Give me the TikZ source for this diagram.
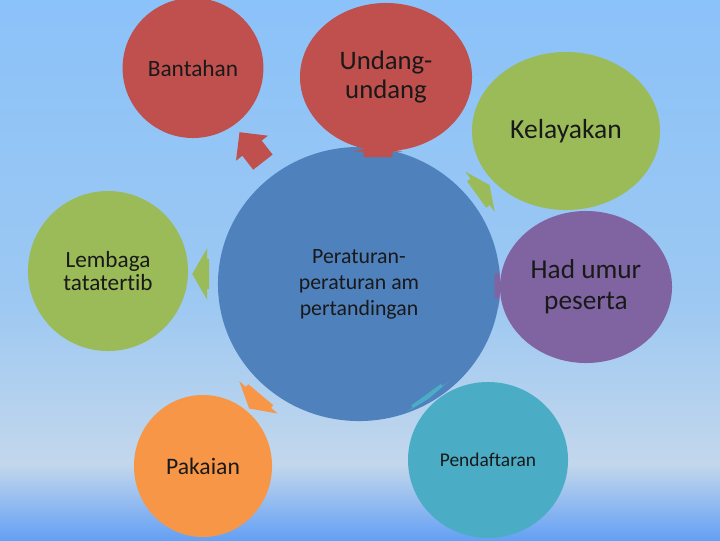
\documentclass[tikz,border=0pt]{standalone}
\usepackage{fontspec}
\setmainfont{Carlito}[Ligatures=NoCommon]
\usetikzlibrary{shapes.geometric,shapes.arrows}

\definecolor{langitA}{HTML}{8BC2F9}
\definecolor{langitB}{HTML}{9CC8F2}
\definecolor{langitC}{HTML}{C3D7EC}
\definecolor{langitD}{HTML}{64A0F4}
\definecolor{biru}{HTML}{4F81BD}
\definecolor{merah}{HTML}{C0504D}
\definecolor{hijau}{HTML}{9BBB59}
\definecolor{ungu}{HTML}{8064A2}
\definecolor{oren}{HTML}{F79646}
\definecolor{firus}{HTML}{4BACC6}

\tikzset{
    bulat/.style={ellipse, inner sep=0pt, align=center, text=black!90},
    panah/.style={single arrow, inner xsep=0pt, draw=none}
}

\begin{document}
\begin{tikzpicture}[x=0.025cm, y=-0.025cm]
    % Latar belakang
    \path[use as bounding box, clip] (0,0) rectangle (720,540);
    \shade[top color=langitA, bottom color=langitB] (0,0) rectangle (720,300);
    \shade[top color=langitB, bottom color=langitC] (0,299) rectangle (720,465);
    \shade[top color=langitC, bottom color=langitD] (0,464) rectangle (720,540);

    % Bulatan tengah
    \node[bulat, fill=biru, minimum width=7.05cm, minimum height=6.85cm,
          font=\fontsize{15.5}{18.4}\selectfont] (tengah) at (359,284)
          {Peraturan-\\peraturan am\\pertandingan};

    % Bulatan luar
    \node[bulat, fill=merah, minimum width=3.52cm, minimum height=3.5cm,
          font=\fontsize{16.6}{20}\selectfont] (bantahan) at (193,68) {Bantahan};
    \node[bulat, fill=merah, minimum width=4.3cm, minimum height=3.7cm,
          font=\fontsize{19}{21}\selectfont] (undang) at (386,77) {Undang-\\undang};
    \node[bulat, fill=hijau, minimum width=4.7cm, minimum height=3.95cm,
          font=\fontsize{19.6}{22}\selectfont] (kelayakan) at (566,131) {Kelayakan};
    \node[bulat, fill=hijau, minimum width=4.0cm, minimum height=4.0cm,
          font=\fontsize{16.5}{16.3}\selectfont] (lembaga) at (108,271) {Lembaga\\tatatertib};
    \node[bulat, fill=ungu, minimum width=4.3cm, minimum height=3.8cm,
          font=\fontsize{19.4}{22}\selectfont] (umur) at (586,287) {Had umur\\peserta};
    \node[bulat, fill=oren, minimum width=3.45cm, minimum height=3.55cm,
          font=\fontsize{16.8}{20}\selectfont] (pakaian) at (203,466) {Pakaian};
    \node[bulat, fill=firus, minimum width=4.0cm, minimum height=3.9cm,
          font=\fontsize{13.8}{16}\selectfont] (daftar) at (488,460) {Pendaftaran};

    % Anak panah
    \node[panah, fill=merah, rotate=128, minimum height=0.95cm, inner ysep=0.3cm,
          single arrow head extend=0.2cm] (pbantahan) at (255,152) {};
    \node[panah, fill=merah, rotate=90, minimum height=0.3cm, inner ysep=0.35cm,
          single arrow head extend=0.25cm, single arrow tip angle=150] (pundang) at (378,153) {};
    \node[panah, fill=hijau, rotate=36, minimum height=0.4cm, inner ysep=0.4cm,
          single arrow head extend=0.22cm, single arrow tip angle=130] (pkelayakan) at (480,192) {};
    \node[panah, fill=hijau, rotate=180, minimum height=0.42cm, inner ysep=0.37cm,
          single arrow head extend=0.27cm, single arrow tip angle=120] (plembaga) at (205,274) {};
    \node[panah, fill=ungu, rotate=0, minimum height=0.15cm, inner ysep=0.3cm,
          single arrow head extend=0.25cm, single arrow tip angle=170] (pumur) at (497,286) {};
    \node[panah, fill=oren, rotate=-130, minimum height=0.45cm, inner ysep=0.4cm,
          single arrow head extend=0.22cm, single arrow tip angle=120] (ppakaian) at (258,398) {};
    \node[panah, fill=firus, rotate=-54, minimum height=0.12cm, inner ysep=0.45cm,
          single arrow head extend=0.2cm, single arrow tip angle=170] (pdaftar) at (427,396) {};
\end{tikzpicture}
\end{document}
